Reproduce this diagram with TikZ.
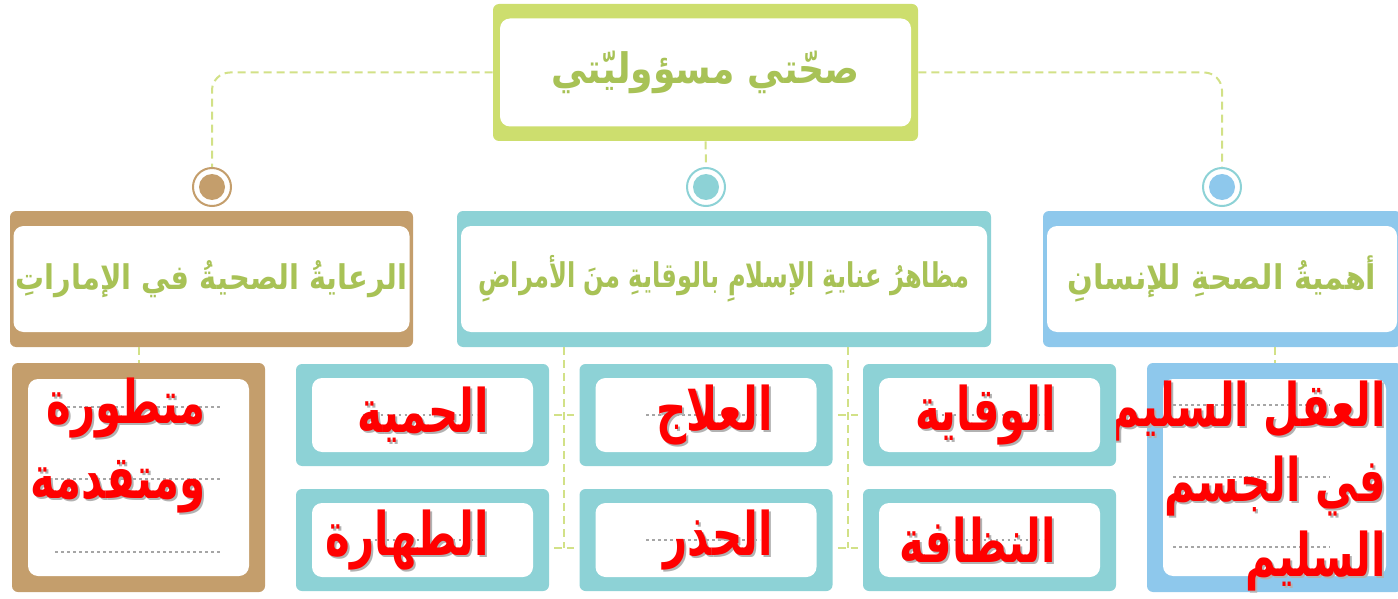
\documentclass[tikz,border=0pt]{standalone}
\usepackage{fontspec}
\usepackage{graphicx}
\newfontfamily\arabicfont[Script=Arabic]{DejaVu Sans}
\newfontfamily\narrowarabic[Script=Arabic, FakeStretch=0.7]{DejaVu Sans}
\TeXXeTstate=1
\usetikzlibrary{positioning,calc}

\definecolor{limeframe}{RGB}{205,222,110}
\definecolor{sandframe}{RGB}{196,158,108}
\definecolor{tealframe}{RGB}{141,210,214}
\definecolor{skyframe}{RGB}{142,200,236}
\definecolor{linkgreen}{RGB}{210,225,135}
\definecolor{headgreen}{RGB}{168,194,86}

\tikzset{
  outerbox/.style={fill=#1, rounded corners=3pt, inner sep=0pt},
  innerbox/.style={fill=white, rounded corners=5pt, inner sep=0pt},
  heading/.style={text=headgreen, font=\arabicfont\bfseries\fontsize{#1}{#1}\selectfont},
  redword/.style={text=red, inner sep=0pt, align=right, font=\narrowarabic\bfseries\fontsize{30}{37.5}\selectfont},
  shadeword/.style={redword, text=black!30},
  ring/.style 2 args={circle, draw=#1, line width=1pt, fill=white, minimum size=19pt, inner sep=0pt,
    path picture={\fill[#2] (path picture bounding box.center) circle (6.5pt);}},
  link/.style={linkgreen, line width=1pt, dash pattern=on 4pt off 2.5pt},
  dots/.style={black!35, line width=1.3pt, dash pattern=on 1.3pt off 1.7pt},
  cell/.style={outerbox=tealframe, minimum width=126.5pt, minimum height=51pt},
  cellin/.style={innerbox, minimum width=110.5pt, minimum height=37pt}
}

\begin{document}
\begin{tikzpicture}[x=0.5pt, y=-0.5pt]
\useasboundingbox (0,0) rectangle (1398,599);
\clip (0,0) rectangle (1398,599);

\node[outerbox=limeframe, minimum width=212.5pt, minimum height=68.5pt] (root) at (705.5,72.5) {};
\node[innerbox, minimum width=205.5pt, minimum height=54pt, heading=21] (root-in) at (root.center) {\scalebox{0.86}[1]{\beginR صحّتي مسؤوليّتي\endR}};

\node[ring={sandframe}{sandframe}] (c-care) at (212,187) {};
\node[ring={tealframe}{tealframe}] (c-islam) at (706,187) {};
\node[ring={tealframe}{skyframe}] (c-human) at (1222,187) {};

\draw[link, rounded corners=9pt] (root.west) -| (c-care.north);
\draw[link, rounded corners=9pt] (root.east) -| (c-human.north);
\draw[link] (root.south) -- (c-islam.north);

\node[outerbox=sandframe, minimum width=201.5pt, minimum height=68pt] (care) at (211.5,279) {};
\node[innerbox, minimum width=198pt, minimum height=53pt, heading=17] (care-in) at (care.center) {\scalebox{0.85}[1]{\beginR الرعايةُ الصحيةُ في الإماراتِ\endR}};
\node[outerbox=tealframe, minimum width=267pt, minimum height=68pt] (islam) at (724,279) {};
\node[innerbox, minimum width=263pt, minimum height=53pt, heading=17] (islam-in) at (islam.center) {\scalebox{0.71}[1]{\beginR مظاهرُ عنايةِ الإسلامِ بالوقايةِ منَ الأمراضِ\endR}};
\node[outerbox=skyframe, minimum width=179pt, minimum height=68pt] (human) at (1222,279) {};
\node[innerbox, minimum width=175pt, minimum height=53pt, heading=17] (human-in) at (human.center) {\scalebox{0.89}[1]{\beginR أهميةُ الصحةِ للإنسانِ\endR}};

\node[outerbox=sandframe, minimum width=126.5pt, minimum height=114.5pt] (emirates) at (138.5,477.5) {};
\node[innerbox, minimum width=110.5pt, minimum height=98.5pt] (emirates-in) at (emirates.center) {};
\draw[dots] (55,407) -- (220,407);
\draw[dots] (55,479) -- (220,479);
\draw[dots] (55,552) -- (220,552);
\node[shadeword, anchor=east] (emirates-sh) at (208,448) {\beginR متطورة\endR\\\beginR ومتقدمة\endR};
\node[redword, anchor=east] (emirates-txt) at (206,446) {\beginR متطورة\endR\\\beginR ومتقدمة\endR};

\node[outerbox=skyframe, minimum width=127.5pt, minimum height=114.5pt] (body) at (1274.5,477.5) {};
\node[innerbox, minimum width=111.5pt, minimum height=98.5pt] (body-in) at (body.center) {};
\draw[dots] (1173,405) -- (1330,405);
\draw[dots] (1173,477) -- (1330,477);
\draw[dots] (1173,547) -- (1330,547);
\node[shadeword, anchor=east] (body-sh) at (1388,488) {\beginR العقل السليم\endR\\\beginR في الجسم\endR\\\beginR السليم\endR};
\node[redword, anchor=east] (body-txt) at (1386,486) {\beginR العقل السليم\endR\\\beginR في الجسم\endR\\\beginR السليم\endR};

\foreach \nm/\cx/\cy/\cellword in {diet/422.5/415/الحمية, treatment/706/415/العلاج, prevention/989.5/415/الوقاية,
  purity/422.5/540/الطهارة, caution/706/540/الحذر, hygiene/989.5/540/النظافة}{
  \node[cell] (\nm) at (\cx,\cy) {};
  \node[cellin] (\nm-in) at (\nm.center) {};
  \draw[dots] ([xshift=-30pt]\nm.center) -- ([xshift=27pt]\nm.center);
  \node[shadeword, anchor=east] (\nm-sh) at ([shift={(34.5pt,-1pt)}]\nm.center) {\beginR\cellword\endR};
  \node[redword, anchor=east] (\nm-txt) at ([xshift=33.5pt]\nm.center) {\beginR\cellword\endR};
}

\coordinate (bus-a) at ($(diet.east)!.5!(treatment.west)$);
\coordinate (bus-b) at ($(purity.east)!.5!(caution.west)$);
\coordinate (bus-c) at ($(treatment.east)!.5!(prevention.west)$);
\coordinate (bus-d) at ($(caution.east)!.5!(hygiene.west)$);
\draw[link] (islam.south -| bus-a) -- ([yshift=-4pt]bus-b);
\draw[link] ([xshift=-5pt]bus-a) -- ([xshift=5pt]bus-a);
\draw[link] ([shift={(-5pt,-4pt)}]bus-b) -- ([shift={(5pt,-4pt)}]bus-b);
\draw[link] (islam.south -| bus-c) -- ([yshift=-4pt]bus-d);
\draw[link] ([xshift=-5pt]bus-c) -- ([xshift=5pt]bus-c);
\draw[link] ([shift={(-5pt,-4pt)}]bus-d) -- ([shift={(5pt,-4pt)}]bus-d);

\draw[link] (care.south -| emirates.north) -- (emirates.north);
\draw[link] (human.south -| body.north) -- (body.north);
\end{tikzpicture}
\end{document}
